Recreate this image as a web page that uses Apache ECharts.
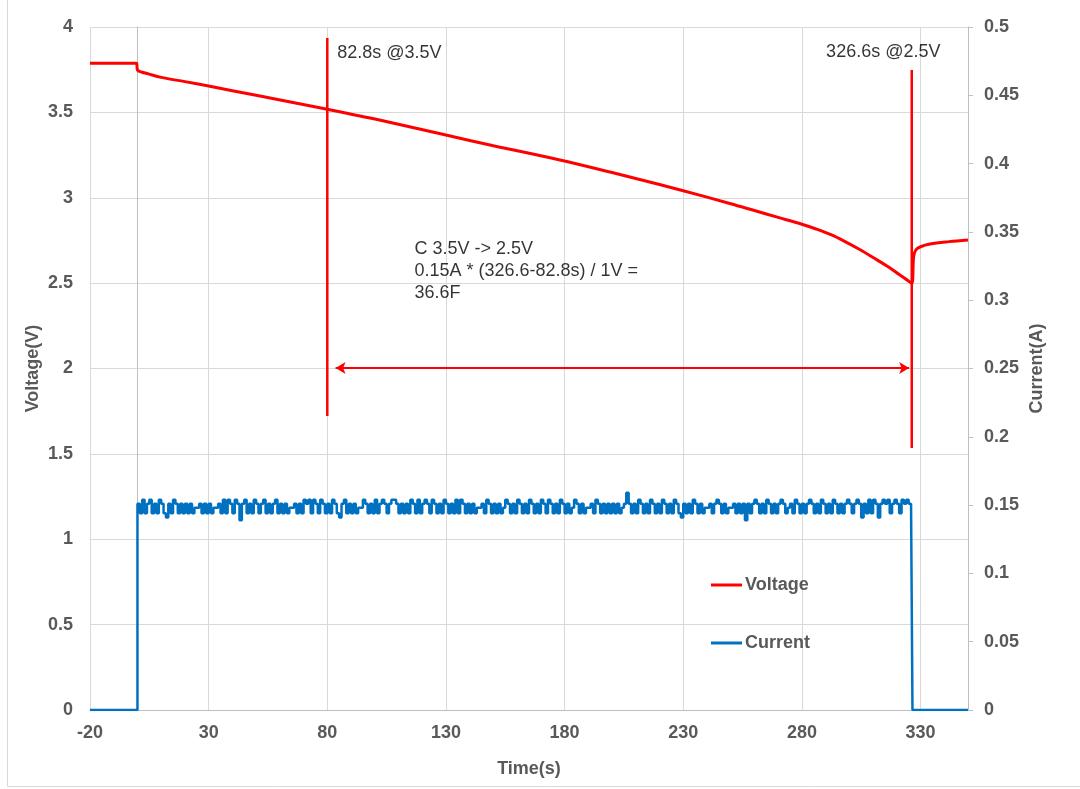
<!DOCTYPE html>
<html><head><meta charset="utf-8">
<script src="https://cdn.jsdelivr.net/npm/echarts@6/dist/echarts.min.js"></script>
<style>html,body{margin:0;padding:0;background:#fff}#c{width:1080px;height:789px}</style>
</head><body><div id="c"></div>
<script>
// ---- data ----
const xTickLabels = [-20, 30, 80, 130, 180, 230, 280, 330];
const voltTime =  [-20, -0.4, 0, 2, 4, 10, 20, 30, 50, 80, 102, 130, 150, 178, 200, 210, 230, 250, 260, 270, 280, 286, 292, 298, 304, 310, 317, 321, 325.4, 326.4, 327.1, 328, 330, 334, 342, 350];
const voltValue = [3.787, 3.787, 3.748, 3.735, 3.728, 3.705, 3.68, 3.654, 3.60, 3.518, 3.455, 3.367, 3.305, 3.221, 3.148, 3.113, 3.041, 2.965, 2.925, 2.885, 2.845, 2.817, 2.785, 2.745, 2.70, 2.65, 2.59, 2.55, 2.508, 2.499, 2.655, 2.694, 2.713, 2.729, 2.743, 2.753];
// current in mA, one sample per second from t=0 to t=326
const currentStart = 0;
const currentMilliAmps = [
151,144,154,144,151,154,144,151,144,154,151,144,141,151,144,154,151,144,151,144,
151,144,151,144,148,148,151,144,151,144,151,144,148,148,151,144,154,144,154,151,
144,154,151,139,151,154,144,151,144,154,151,144,151,154,144,151,144,151,154,144,
151,144,151,144,148,148,151,144,151,144,154,151,154,144,154,151,144,154,151,144,
151,144,154,151,144,141,151,154,144,151,144,151,144,148,148,154,151,144,151,144,
154,144,151,154,151,144,151,154,154,151,144,151,144,151,144,154,151,144,154,144,
151,154,151,144,154,151,144,151,144,154,151,144,151,144,154,144,154,151,144,151,
144,151,144,148,148,151,144,154,151,144,151,144,151,144,148,154,151,144,151,144,
154,151,144,151,144,154,151,144,151,144,154,151,144,154,151,144,151,144,154,151,
144,151,144,148,154,151,144,151,144,148,148,151,144,154,151,144,151,144,151,144,
151,144,151,144,148,151,159,151,144,151,144,154,151,144,151,144,154,151,144,151,
144,154,151,144,151,144,154,151,144,141,151,144,151,144,154,151,144,151,144,148,
148,151,144,151,154,151,144,151,144,148,148,151,144,151,144,151,139,151,144,151,
154,151,144,151,144,154,151,144,151,144,151,154,151,144,148,151,144,154,151,144,
151,144,151,154,151,144,151,144,154,151,144,151,144,154,151,144,151,144,151,154,
151,144,151,154,151,141,151,144,154,144,154,151,141,151,154,151,154,144,151,154,
151,144,154,151,154,151,151];
const currentOffTime = 326.6;
const axisEndTime = 350;
// annotation marker lines (time, voltage)
const marker1 = [[80, 1.722], [80, 3.935]];
const marker2 = [[326.3, 1.534], [326.3, 3.748]];
const arrowSpan = [[83.5, 2.003], [325.2, 2.003]];
const notes = [
  [84, 3.85, '82.8s @3.5V'],
  [290, 3.855, '326.6s @2.5V'],
  [116.5, 2.572, 'C 3.5V -> 2.5V\n0.15A * (326.6-82.8s) / 1V =\n36.6F']
];

// ---- build ----
const voltData = voltTime.map((t, i) => [t, voltValue[i]]);
const curData = [[-20, 0]];
currentMilliAmps.forEach((v, i) => curData.push([currentStart + i, v / 1000]));
curData.push([currentOffTime, 0], [axisEndTime, 0]);

const FONT = "'Liberation Sans', Arial, sans-serif";
const GRAY = '#595959';
const chart = echarts.init(document.getElementById('c'), null, {renderer: 'canvas'});
chart.setOption({
  animation: false,
  backgroundColor: '#fff',
  textStyle: {fontFamily: FONT},
  grid: {left: 90, right: 112, top: 27, bottom: 79, containLabel: false},
  legend: {
    data: ['Voltage', 'Current'], orient: 'vertical', left: 706, top: 571,
    itemWidth: 31, itemHeight: 3, itemGap: 40, icon: 'rect',
    textStyle: {fontFamily: FONT, fontSize: 18, fontWeight: 'bold', color: GRAY, padding: [0, 0, 0, -2]}
  },
  xAxis: {
    type: 'value', min: -20, max: 350,
    name: 'Time(s)', nameLocation: 'middle', nameGap: 50,
    nameTextStyle: {fontFamily: FONT, fontSize: 18, fontWeight: 'bold', color: GRAY},
    axisLine: {show: true, lineStyle: {color: '#bfbfbf', width: 1}},
    axisTick: {show: false, customValues: xTickLabels},
    axisLabel: {customValues: xTickLabels, fontFamily: FONT, fontSize: 18, fontWeight: 'bold', color: GRAY, margin: 14},
    splitLine: {show: true, lineStyle: {color: '#d9d9d9', width: 1}}
  },
  yAxis: [{
    type: 'value', min: 0, max: 4, interval: 0.5, position: 'left',
    name: 'Voltage(V)', nameLocation: 'middle', nameGap: 48, nameRotate: 90, nameMoveOverlap: false,
    nameTextStyle: {fontFamily: FONT, fontSize: 18, fontWeight: 'bold', color: GRAY},
    axisLine: {show: true, lineStyle: {color: '#bfbfbf', width: 1}},
    axisTick: {show: false},
    axisLabel: {fontFamily: FONT, fontSize: 18, fontWeight: 'bold', color: GRAY, margin: 17},
    splitLine: {show: true, lineStyle: {color: '#d9d9d9', width: 1}}
  }, {
    type: 'value', min: 0, max: 0.5, interval: 0.05, position: 'right',
    name: 'Current(A)', nameLocation: 'middle', nameGap: 60, nameRotate: 90, nameMoveOverlap: false,
    nameTextStyle: {fontFamily: FONT, fontSize: 18, fontWeight: 'bold', color: GRAY},
    axisLine: {show: true, lineStyle: {color: '#bfbfbf', width: 1}},
    axisTick: {show: true, inside: false, length: 5, lineStyle: {color: '#bfbfbf'}},
    axisLabel: {fontFamily: FONT, fontSize: 18, fontWeight: 'bold', color: GRAY, margin: 16},
    splitLine: {show: false}
  }],
  series: [{
    name: 'Current', type: 'line', yAxisIndex: 1, data: curData, step: 'end',
    showSymbol: false, symbol: 'none', color: '#0070c0',
    lineStyle: {color: '#0070c0', width: 2.5}, z: 2
  }, {
    name: 'Voltage', type: 'line', yAxisIndex: 0, data: voltData, smooth: 0.35,
    showSymbol: false, symbol: 'none', color: '#ff0000',
    lineStyle: {color: '#ff0000', width: 3}, z: 3
  }, {
    name: 'm1', type: 'line', data: marker1, symbol: 'none', silent: true,
    lineStyle: {color: '#ff0000', width: 2.5}, z: 4
  }, {
    name: 'm2', type: 'line', data: marker2, symbol: 'none', silent: true,
    lineStyle: {color: '#ff0000', width: 2.5}, z: 4,
    markLine: {
      silent: true, symbol: ['arrow', 'arrow'], symbolSize: [9, 10],
      lineStyle: {color: '#ff0000', width: 2, type: 'solid'}, label: {show: false},
      data: [[{coord: arrowSpan[0]}, {coord: arrowSpan[1]}]]
    }
  }, {
    name: 'notes', type: 'scatter', data: notes, symbolSize: 1, silent: true,
    itemStyle: {color: 'rgba(0,0,0,0)'}, z: 5,
    label: {
      show: true, position: 'right', distance: 0, color: '#000',
      fontFamily: FONT, fontSize: 18, lineHeight: 22, align: 'left',
      formatter: p => p.data[2]
    }
  }],
  graphic: [{
    type: 'rect', silent: true, shape: {x: 7.5, y: -5, width: 1200, height: 791.5},
    style: {fill: 'none', stroke: '#d9d9d9', lineWidth: 1}
  }]
});
</script></body></html>
